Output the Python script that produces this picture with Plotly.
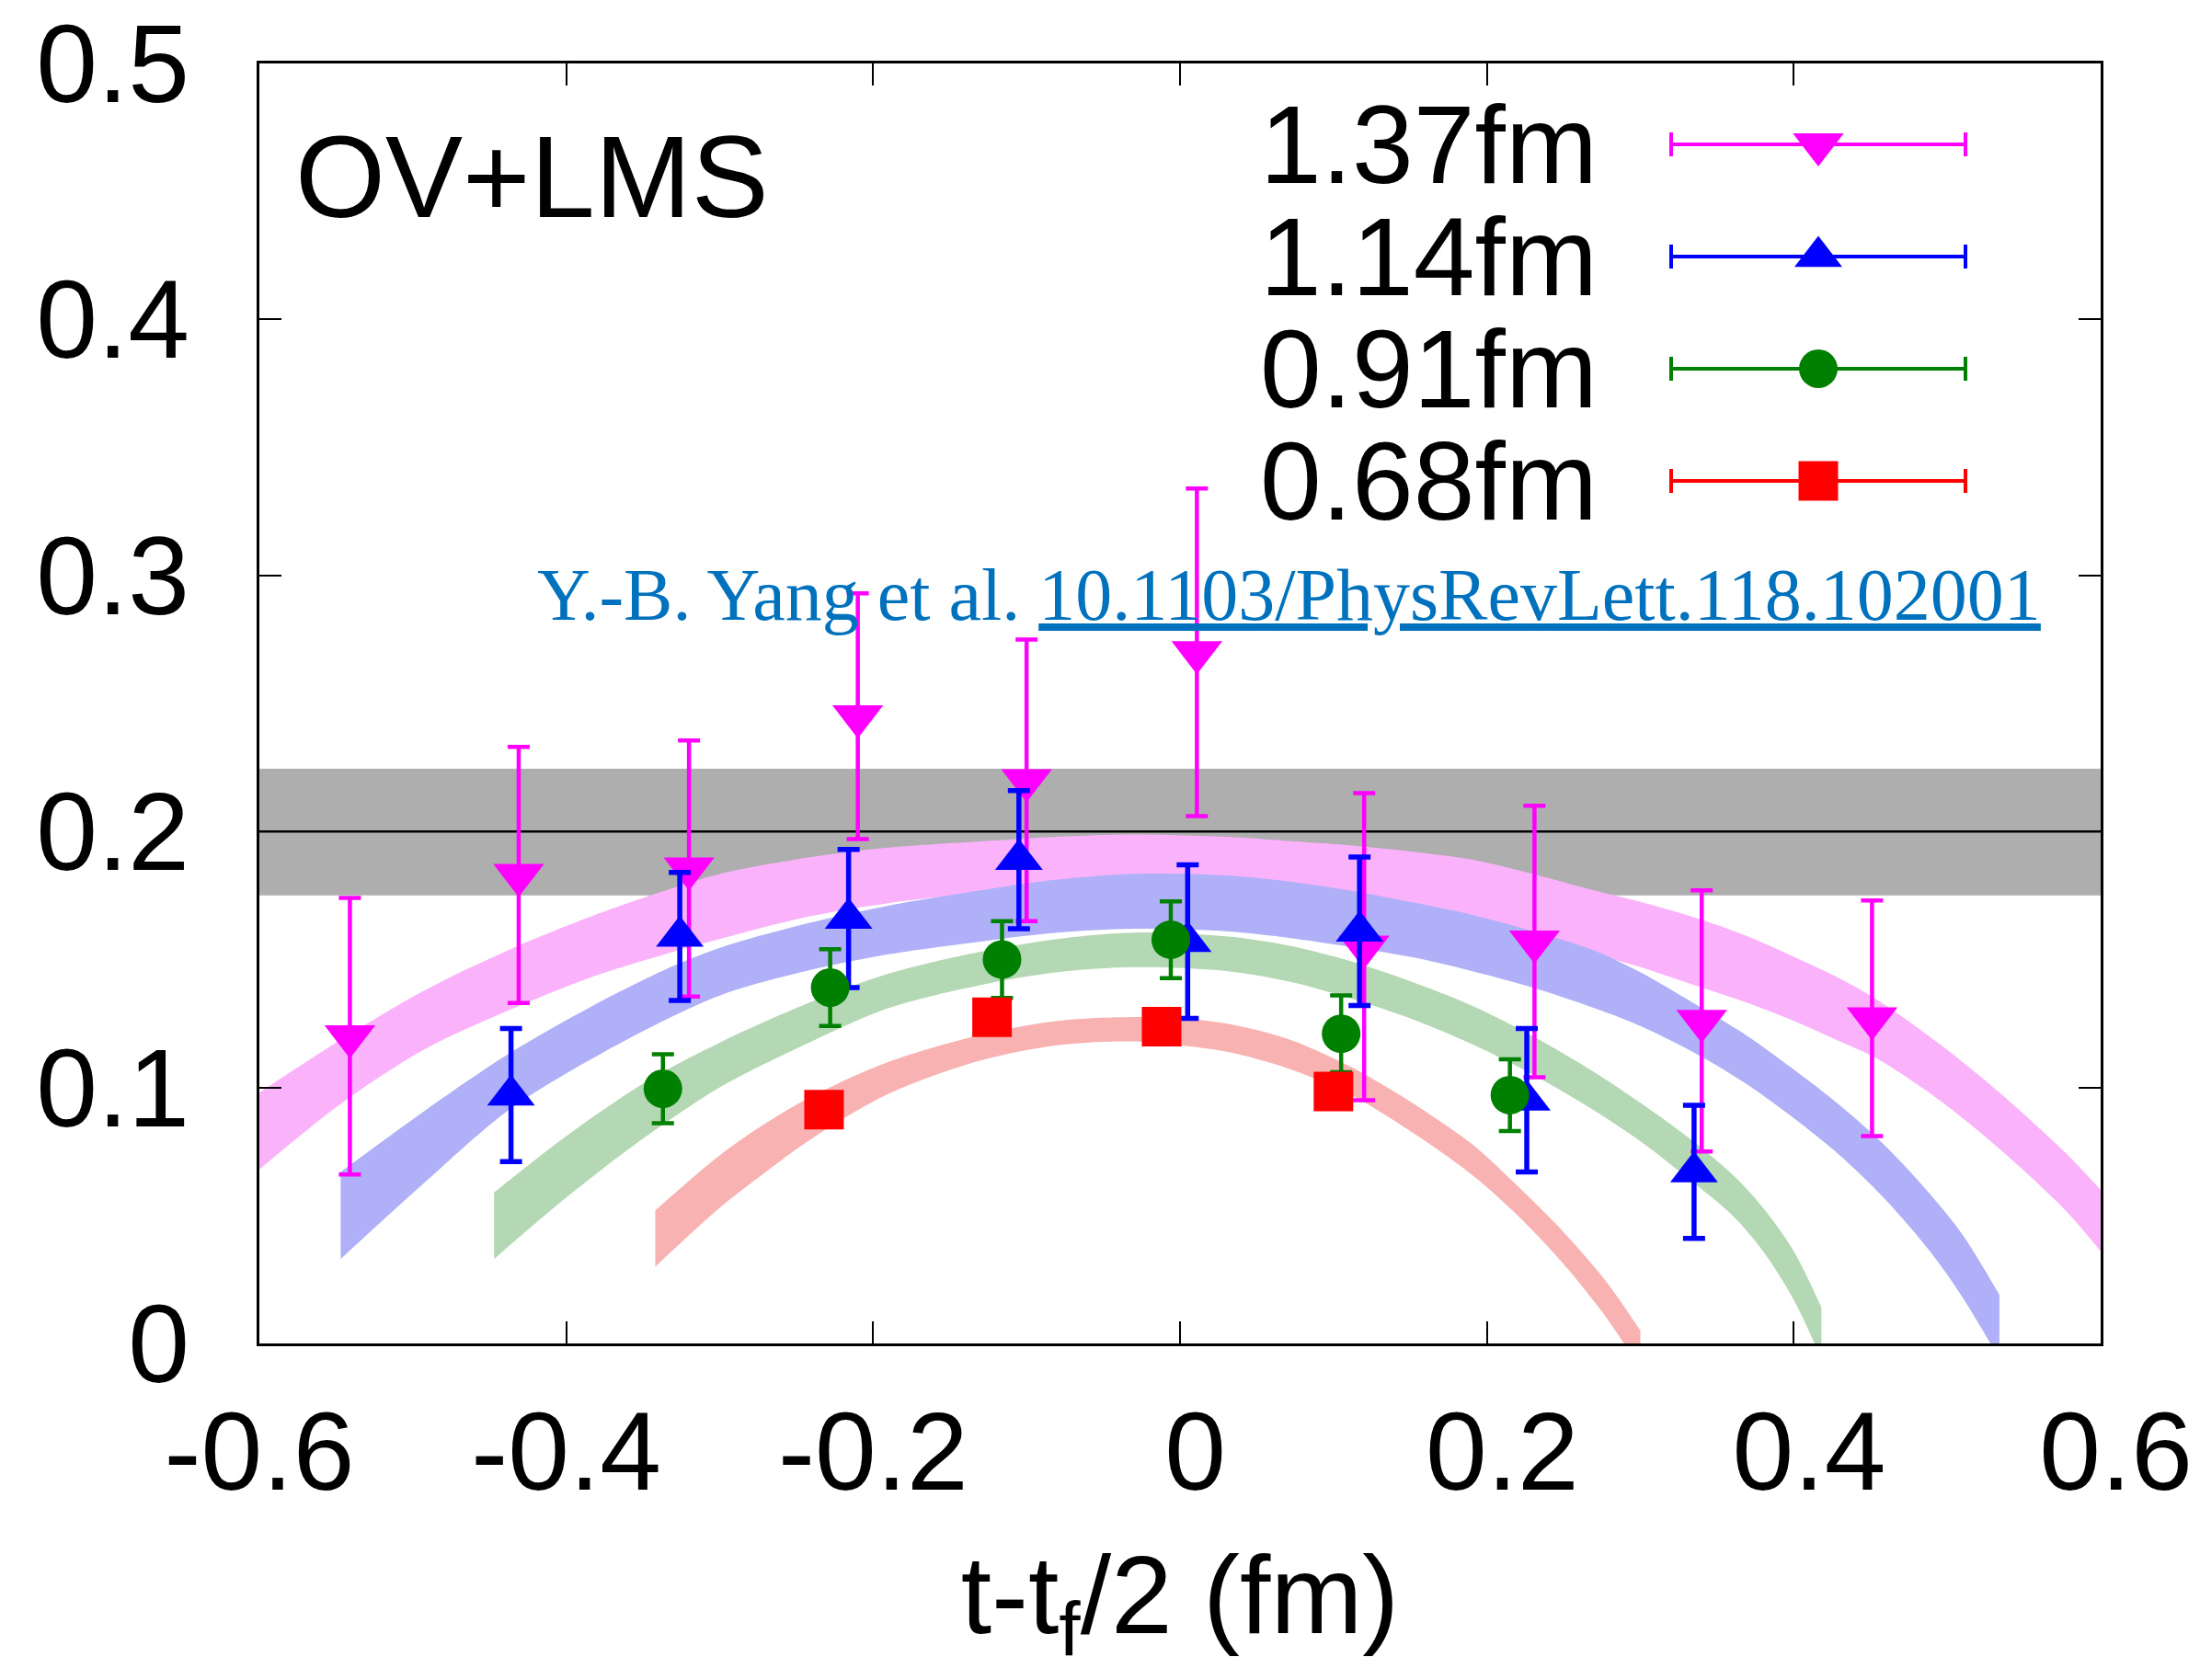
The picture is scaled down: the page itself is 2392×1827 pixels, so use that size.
import plotly.graph_objects as go

# ---------------- data ----------------
series_names = ["1.37fm", "1.14fm", "0.91fm", "0.68fm"]

# data points (t - tf/2 in fm, value, error)
mag_x = [-0.541, -0.431, -0.320, -0.210, -0.100, 0.011, 0.120, 0.231, 0.340, 0.451]
mag_y = [0.120, 0.183, 0.1855, 0.245, 0.220, 0.270, 0.155, 0.157, 0.126, 0.127]
mag_e = [0.054, 0.050, 0.050, 0.048, 0.055, 0.064, 0.060, 0.053, 0.051, 0.046]

blu_x = [-0.436, -0.326, -0.216, -0.105, 0.005, 0.117, 0.226, 0.335]
blu_y = [0.097, 0.159, 0.166, 0.189, 0.157, 0.161, 0.095, 0.067]
blu_e = [0.026, 0.025, 0.027, 0.027, 0.030, 0.029, 0.028, 0.026]

grn_x = [-0.337, -0.228, -0.116, -0.006, 0.105, 0.215]
grn_y = [0.0995, 0.139, 0.150, 0.1577, 0.121, 0.097]
grn_e = [0.0135, 0.015, 0.015, 0.015, 0.015, 0.014]

red_x = [-0.232, -0.1225, -0.012, 0.100]
red_y = [0.0913, 0.1274, 0.1237, 0.0984]
red_e = [0.004, 0.004, 0.004, 0.004]

# fit bands (x, lower, upper)
mag_band_x = [-0.60, -0.546, -0.492, -0.438, -0.384, -0.33, -0.30, -0.24, -0.19, -0.13, -0.08, -0.03,
              0.03, 0.07, 0.11, 0.15, 0.19, 0.23, 0.27, 0.30, 0.34, 0.37, 0.40, 0.43, 0.455, 0.495, 0.536, 0.577, 0.60]
mag_band_lo = [0.068, 0.094, 0.115, 0.130, 0.143, 0.153, 0.158, 0.167, 0.172, 0.176, 0.178, 0.179,
               0.178, 0.176, 0.173, 0.169, 0.165, 0.159, 0.152, 0.147, 0.139, 0.133, 0.126, 0.118, 0.111, 0.095, 0.075, 0.052, 0.036]
mag_band_hi = [0.098, 0.119, 0.138, 0.1536, 0.1668, 0.178, 0.1834, 0.190, 0.1937, 0.1961, 0.1979, 0.1988,
               0.1979, 0.1963, 0.1946, 0.1922, 0.189, 0.1834, 0.177, 0.1725, 0.1655, 0.159, 0.151, 0.1425, 0.134, 0.117, 0.097, 0.0745, 0.060]

blu_band_x = [-0.547, -0.492, -0.438, -0.384, -0.33, -0.295, -0.24, -0.19, -0.13, -0.08, -0.03, 0.03, 0.07,
              0.11, 0.15, 0.19, 0.23, 0.27, 0.30, 0.34, 0.37, 0.40, 0.43, 0.46, 0.49, 0.51, 0.534]
blu_band_lo = [0.033, 0.063, 0.091, 0.111, 0.128, 0.137, 0.146, 0.152, 0.157, 0.1605, 0.162, 0.161, 0.1585,
               0.155, 0.151, 0.1455, 0.139, 0.131, 0.124, 0.112, 0.101, 0.088, 0.0735, 0.056, 0.035, 0.018, -0.006]
blu_band_hi = [0.067, 0.091, 0.113, 0.1315, 0.1475, 0.1555, 0.1645, 0.171, 0.177, 0.1812, 0.1835, 0.1828, 0.1805,
               0.177, 0.1725, 0.1675, 0.161, 0.1535, 0.145, 0.131, 0.120, 0.107, 0.093, 0.077, 0.0575, 0.0425, 0.019]

grn_band_x = [-0.447, -0.40, -0.35, -0.30, -0.24, -0.19, -0.13, -0.08, -0.03, 0.03, 0.07, 0.11, 0.15,
              0.19, 0.23, 0.27, 0.30, 0.33, 0.36, 0.38, 0.40, 0.418]
grn_band_lo = [0.033, 0.057, 0.080, 0.100, 0.118, 0.131, 0.140, 0.145, 0.147, 0.1455, 0.1415, 0.135, 0.127,
               0.117, 0.105, 0.091, 0.079, 0.065, 0.050, 0.036, 0.017, -0.006]
grn_band_hi = [0.059, 0.081, 0.1015, 0.1175, 0.1335, 0.1445, 0.153, 0.158, 0.1605, 0.159, 0.1555, 0.1495, 0.1415,
               0.132, 0.120, 0.106, 0.094, 0.081, 0.066, 0.053, 0.036, 0.014]

red_band_x = [-0.342, -0.30, -0.27, -0.24, -0.19, -0.13, -0.08, -0.03, 0.0, 0.03, 0.07, 0.11, 0.15,
              0.19, 0.22, 0.25, 0.278, 0.30]
red_band_lo = [0.030, 0.053, 0.067, 0.080, 0.0975, 0.1105, 0.1165, 0.118, 0.1165, 0.114, 0.1075, 0.0975, 0.083,
               0.066, 0.050, 0.031, 0.010, -0.010]
red_band_hi = [0.052, 0.0735, 0.086, 0.0965, 0.110, 0.1205, 0.126, 0.1275, 0.127, 0.125, 0.119, 0.1085, 0.0945,
               0.078, 0.0615, 0.0435, 0.024, 0.005]

# reference (gray) band
ref_value = 0.2
ref_lo = 0.175
ref_hi = 0.2245

x_tick_vals = [-0.6, -0.4, -0.2, 0.0, 0.2, 0.4, 0.6]
x_tick_text = ["-0.6", "-0.4", "-0.2", "\u00a00", "\u00a00.2", "\u00a00.4", "\u00a00.6"]
y_tick_vals = [0.0, 0.1, 0.2, 0.3, 0.4, 0.5]
y_tick_text = ["0", "0.1", "0.2", "0.3", "0.4", "0.5"]

# ---------------- styling ----------------
BODY = 8                      # default page margin around the plot div
W, H = 2392 - 2 * BODY, 1827 - 2 * BODY
PL, PT, PW, PH = 282, 69, 2002, 1392   # plot area in page pixels
ML, MT = PL - BODY, PT - BODY
MR = W - ML - PW
MB = H - MT - PH


def px_x(p):
    return (p - PL) / PW


def px_y(p):
    return (PT + PH - p) / PH


FONT = "Liberation Sans, Arial, Helvetica, sans-serif"
SERIF = "Liberation Serif, Times New Roman, serif"

colors = ["#ff00ff", "#0000ff", "#008000", "#ff0000"]
fills = ["#fab3fa", "#b0b0f8", "#b3d8b3", "#f8b2b2"]
symbols = ["triangle-down", "triangle-up", "circle", "square"]
msizes = [48, 45, 42, 43]
ethick = [4.5, 5.5, 4.5, 4.5]

bands = [(mag_band_x, mag_band_lo, mag_band_hi),
         (blu_band_x, blu_band_lo, blu_band_hi),
         (grn_band_x, grn_band_lo, grn_band_hi),
         (red_band_x, red_band_lo, red_band_hi)]
points = [(mag_x, mag_y, mag_e), (blu_x, blu_y, blu_e), (grn_x, grn_y, grn_e), (red_x, red_y, red_e)]

fig = go.Figure()

for (bx, lo, hi), fc in zip(bands, fills):
    fig.add_trace(go.Scatter(x=bx, y=lo, mode="lines", line=dict(width=0, shape="spline", smoothing=0.9),
                             showlegend=False, hoverinfo="skip"))
    fig.add_trace(go.Scatter(x=bx, y=hi, mode="lines", line=dict(width=0, shape="spline", smoothing=0.9),
                             fill="tonexty", fillcolor=fc, showlegend=False, hoverinfo="skip"))

for (px, py, pe), c, s, ms, et, name in zip(points, colors, symbols, msizes, ethick, series_names):
    fig.add_trace(go.Scatter(
        x=px, y=py, mode="markers", name=name, showlegend=False,
        marker=dict(symbol=s, size=ms, color=c, line=dict(width=0)),
        error_y=dict(type="data", array=pe, visible=True, color=c, thickness=et, width=12),
    ))

# ---- gnuplot-style key (text left, sample right) on an overlay axis ----
key_rows_px = [157, 279, 401, 523]
key_center_px = 1977
key_half_px = 160
key_text_right_px = 1739
for i, (c, s, ms, name) in enumerate(zip(colors, symbols, msizes, series_names)):
    yk = px_y(key_rows_px[i])
    fig.add_trace(go.Scatter(
        x=[px_x(key_center_px)], y=[yk], xaxis="x2", yaxis="y2", mode="markers",
        showlegend=False, hoverinfo="skip",
        marker=dict(symbol=s, size=ms, color=c, line=dict(width=0)),
        error_x=dict(type="constant", value=key_half_px / PW, visible=True, color=c, thickness=4, width=13),
    ))
    fig.add_annotation(x=px_x(key_text_right_px), y=yk, xref="paper", yref="paper",
                       xanchor="right", yanchor="middle", text=name, showarrow=False,
                       font=dict(family=FONT, size=120, color="black"))

fig.add_annotation(x=px_x(319), y=px_y(192), xref="paper", yref="paper",
                   xanchor="left", yanchor="middle", text="OV+LMS", showarrow=False,
                   font=dict(family=FONT, size=126, color="black"))

fig.add_annotation(x=px_x(582), y=px_y(647), xref="paper", yref="paper",
                   xanchor="left", yanchor="middle",
                   text="Y.-B. Yang et al. <u>10.1103/PhysRevLett.118.102001</u>", showarrow=False,
                   font=dict(family=SERIF, size=80, color="#0071bc"))

# gray band and reference line
fig.add_shape(type="rect", xref="paper", yref="y", x0=0, x1=1, y0=ref_lo, y1=ref_hi,
              fillcolor="#aeaeae", line=dict(width=0), layer="below")
fig.add_shape(type="line", xref="paper", yref="y", x0=0, x1=1, y0=ref_value, y1=ref_value,
              line=dict(color="black", width=2.5), layer="below")

axis_common = dict(showline=True, linecolor="black", linewidth=3, mirror="ticks",
                   ticks="inside", ticklen=24, tickwidth=2, tickcolor="black",
                   showgrid=False, zeroline=False, ticklabeloverflow="allow")

fig.update_layout(
    width=W, height=H, template="none",
    paper_bgcolor="white", plot_bgcolor="white",
    margin=dict(l=ML, r=MR, t=MT, b=MB, pad=0),
    showlegend=False,
    xaxis=dict(range=[-0.6, 0.6], tickvals=x_tick_vals, ticktext=x_tick_text,
               tickfont=dict(family=FONT, size=120, color="black"), ticklabelstandoff=12,
               title=dict(text="t-t<sub>f</sub>/2 (fm)", font=dict(family=FONT, size=120, color="black"),
                          standoff=108),
               **axis_common),
    yaxis=dict(range=[0, 0.5], tickvals=y_tick_vals, ticktext=y_tick_text,
               tickfont=dict(family=FONT, size=120, color="black"), ticklabelstandoff=49,
               **axis_common),
    xaxis2=dict(overlaying="x", range=[0, 1], visible=False),
    yaxis2=dict(overlaying="y", range=[0, 1], visible=False),
)

fig.write_html("out.html")
